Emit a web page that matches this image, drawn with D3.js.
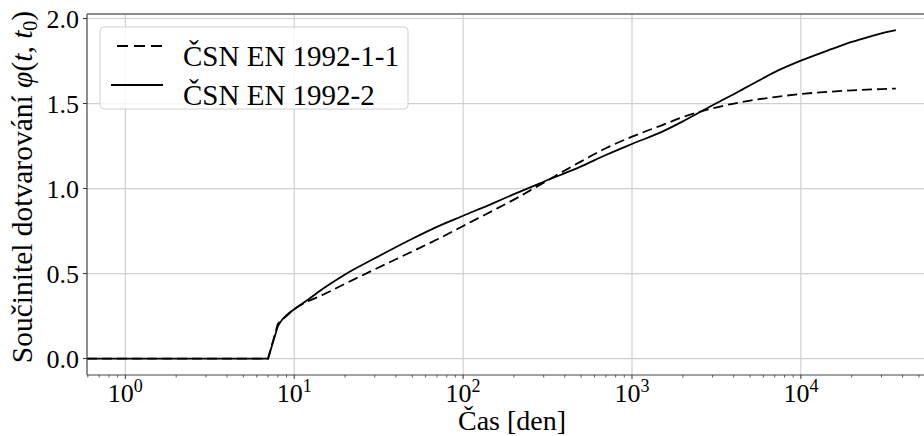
<!DOCTYPE html>
<html>
<head>
<meta charset="utf-8">
<script src="https://cdn.jsdelivr.net/npm/d3@7"></script>
<style>
  html, body { margin: 0; padding: 0; background: #fff; }
  svg { display: block; font-family: "Liberation Serif", "Times New Roman", serif; }
</style>
</head>
<body>
<svg id="chart" width="924" height="436"></svg>
<script>
// Data (time in days, creep coefficient)
// t = 0 sits left of the log axis and gets clipped to its edge, like matplotlib does
const tDashed = [0, 1, 7, 8, 9, 10, 15, 20, 30, 50, 70, 100, 150, 200, 300, 500, 700, 1000, 1500, 2000, 3000, 5000, 7000, 10000, 15000, 20000, 30000, 36500];
const phiDashed = [0, 0, 0, 0.205, 0.25, 0.29, 0.378, 0.44, 0.525, 0.63, 0.70, 0.78, 0.87, 0.935, 1.035, 1.16, 1.237, 1.305, 1.372, 1.42, 1.472, 1.517, 1.538, 1.556, 1.57, 1.577, 1.585, 1.588];

const tSolid = [0, 1, 7, 8, 8.5, 9, 10, 12, 15, 20, 30, 50, 70, 100, 150, 200, 300, 500, 700, 1000, 1500, 2000, 3000, 4000, 5000, 7000, 10000, 15000, 20000, 25000, 30000, 36500];
const phiSolid = [0, 0, 0, 0.19, 0.23, 0.255, 0.29, 0.345, 0.415, 0.495, 0.59, 0.705, 0.775, 0.84, 0.913, 0.967, 1.04, 1.13, 1.197, 1.262, 1.333, 1.395, 1.49, 1.555, 1.607, 1.685, 1.752, 1.818, 1.862, 1.891, 1.913, 1.931];

const seriesNames = ['ČSN EN 1992-1-1', 'ČSN EN 1992-2'];
const xTicks = [1, 10, 100, 1000, 10000];
const yTicks = [0, 0.5, 1.0, 1.5, 2.0];
const xLimits = [0.593, 61400];
const yLimits = [-0.0965, 2.0265];

const svg = d3.select('#chart');
const mLeft = 87, mRight = 934, mTop = 14, mBottom = 375;

const x = d3.scaleLog().domain(xLimits).range([mLeft, mRight]);
const y = d3.scaleLinear().domain(yLimits).range([mBottom, mTop]);

// Grid
const grid = svg.append('g');
grid.selectAll('.gx').data(xTicks).enter().append('line')
  .attr('x1', d => x(d)).attr('x2', d => x(d))
  .attr('y1', mTop).attr('y2', mBottom)
  .attr('stroke', '#cfcfcf').attr('stroke-width', 1.2);
grid.selectAll('.gy').data(yTicks).enter().append('line')
  .attr('x1', mLeft).attr('x2', mRight)
  .attr('y1', d => y(d)).attr('y2', d => y(d))
  .attr('stroke', '#cfcfcf').attr('stroke-width', 1.2);

// Lines: straight up to the jump at t0, smooth afterwards
function curvePath(ts, vals) {
  const pts = ts.map((t, i) => [Math.max(t, xLimits[0]), vals[i]]);
  const k = ts.indexOf(8);
  const lin = d3.line().x(d => x(d[0])).y(d => y(d[1]));
  const smooth = d3.line().x(d => x(d[0])).y(d => y(d[1])).curve(d3.curveMonotoneX);
  return lin(pts.slice(0, k + 1)) + smooth(pts.slice(k)).replace(/^M/, 'L');
}
svg.append('path')
  .attr('d', curvePath(tDashed, phiDashed))
  .attr('fill', 'none').attr('stroke', '#000').attr('stroke-width', 1.8)
  .attr('stroke-dasharray', '10,5');
svg.append('path')
  .attr('d', curvePath(tSolid, phiSolid))
  .attr('fill', 'none').attr('stroke', '#000').attr('stroke-width', 1.8);

// Spines
svg.append('line').attr('x1', mLeft).attr('x2', mLeft).attr('y1', mTop).attr('y2', mBottom)
  .attr('stroke', '#444').attr('stroke-width', 1.2);
svg.append('line').attr('x1', mLeft).attr('x2', mRight).attr('y1', mBottom).attr('y2', mBottom)
  .attr('stroke', '#444').attr('stroke-width', 1.2);
svg.append('line').attr('x1', mLeft).attr('x2', mRight).attr('y1', mTop).attr('y2', mTop)
  .attr('stroke', '#666').attr('stroke-width', 1.4);

// X axis: major + minor ticks
const minor = [];
for (let e = -1; e <= 4; e++) {
  for (let m = 2; m <= 9; m++) {
    const v = m * Math.pow(10, e);
    if (v >= xLimits[0] && v <= xLimits[1]) minor.push(v);
  }
}
svg.append('g').selectAll('line').data(minor).enter().append('line')
  .attr('x1', d => x(d)).attr('x2', d => x(d))
  .attr('y1', mBottom).attr('y2', mBottom + 2.5)
  .attr('stroke', '#333').attr('stroke-width', 0.8);
svg.append('g').selectAll('line').data(xTicks).enter().append('line')
  .attr('x1', d => x(d)).attr('x2', d => x(d))
  .attr('y1', mBottom).attr('y2', mBottom + 4)
  .attr('stroke', '#333').attr('stroke-width', 1);

const xl = svg.append('g').selectAll('text').data(xTicks).enter().append('text')
  .attr('x', d => x(d)).attr('y', 402)
  .attr('text-anchor', 'middle')
  .attr('font-size', 26);
xl.append('tspan').text('10');
xl.append('tspan').attr('dy', -10).attr('font-size', 18).text(d => Math.round(Math.log10(d)));

// Y axis
svg.append('g').selectAll('line').data(yTicks).enter().append('line')
  .attr('x1', mLeft - 4).attr('x2', mLeft)
  .attr('y1', d => y(d)).attr('y2', d => y(d))
  .attr('stroke', '#333').attr('stroke-width', 1);
svg.append('g').selectAll('text').data(yTicks).enter().append('text')
  .attr('x', 79).attr('y', d => y(d) + 9)
  .attr('text-anchor', 'end')
  .attr('font-size', 26)
  .text(d => d.toFixed(1));

// Axis labels
svg.append('text')
  .attr('x', 512).attr('y', 430)
  .attr('text-anchor', 'middle').attr('font-size', 28)
  .text('Čas [den]');

const yl = svg.append('text')
  .attr('transform', 'translate(32,187) rotate(-90)')
  .attr('text-anchor', 'middle').attr('font-size', 29.5);
yl.append('tspan').text('Součinitel dotvarování ');
yl.append('tspan').attr('font-style', 'italic').text('φ');
yl.append('tspan').text('(');
yl.append('tspan').attr('font-style', 'italic').text('t');
yl.append('tspan').text(', ');
yl.append('tspan').attr('font-style', 'italic').text('t');
yl.append('tspan').attr('font-size', 20).attr('dy', 5).text('0');
yl.append('tspan').attr('dy', -5).text(')');

// Legend
const lg = svg.append('g');
lg.append('rect')
  .attr('x', 100).attr('y', 27).attr('width', 308).attr('height', 82)
  .attr('rx', 4).attr('ry', 4)
  .attr('fill', '#fff').attr('fill-opacity', 0.8)
  .attr('stroke', '#d0d0d0').attr('stroke-width', 1);
const legendRows = [
  { name: seriesNames[0], dash: '11,6', y: 46 },
  { name: seriesNames[1], dash: null, y: 85 }
];
legendRows.forEach(r => {
  lg.append('line')
    .attr('x1', 111).attr('x2', 163).attr('y1', r.y).attr('y2', r.y)
    .attr('stroke', '#000').attr('stroke-width', 1.8)
    .attr('stroke-dasharray', r.dash)
    .attr('stroke-dashoffset', r.dash ? -6 : null);
  lg.append('text')
    .attr('x', 183).attr('y', r.y + 20)
    .attr('font-size', 29)
    .text(r.name);
});
</script>
</body>
</html>
